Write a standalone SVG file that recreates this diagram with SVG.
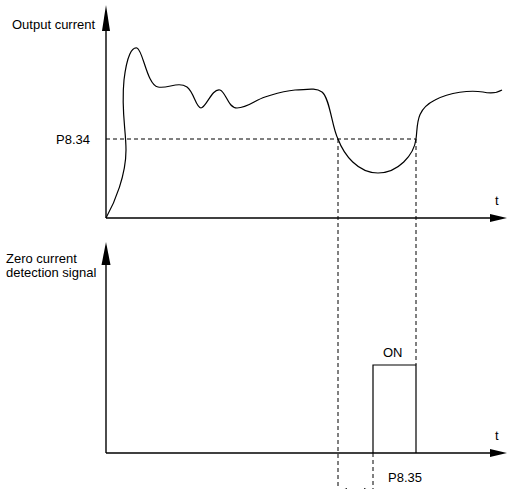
<svg xmlns="http://www.w3.org/2000/svg" width="507" height="489" viewBox="0 0 507 489">
<style>
text{font-family:"Liberation Sans",Arial,sans-serif;font-size:13px;fill:#000}
.ax{stroke:#000;stroke-width:1.4;fill:none}
.ln{stroke:#000;stroke-width:1.2;fill:none}
.ds{stroke:#000;stroke-width:1;fill:none;stroke-dasharray:4 3}
.ah{fill:#000}
</style>
<rect width="507" height="489" fill="#fff"/>
<g id="connectors">
<line class="ax" x1="106" y1="28" x2="106" y2="218"/>
<line class="ax" x1="106" y1="218" x2="494" y2="218"/>
<polygon class="ah" points="106,5 110,31 102,31"/>
<polygon class="ah" points="507,218 490,214 490,222"/>
<line class="ax" x1="106" y1="262" x2="106" y2="453"/>
<line class="ax" x1="106" y1="453" x2="494" y2="453"/>
<polygon class="ah" points="106,242 110.5,265 101.5,265"/>
<polygon class="ah" points="507,453 490,449 490,457"/>
<line class="ds" x1="106" y1="139" x2="416" y2="139"/>
<line class="ds" x1="338" y1="139" x2="338" y2="489"/>
<line class="ds" x1="416" y1="139" x2="416" y2="365"/>
<line class="ds" x1="373" y1="453" x2="373" y2="489"/>
<line class="ln" x1="340" y1="491" x2="371" y2="491"/>
<polygon class="ah" points="340,491 347,488 347,494"/>
<polygon class="ah" points="371,491 364,488 364,494"/>
</g>
<g id="output-current-curve">
<path class="ln" d="M106,218 C115,202 126,175 126,150 C126,130 121,110 124,80 C127,55 132,47 137,48 C143,50 147,85 158,87 C168,89 178,81 187,87 C194,92 196,108 201,108 C206,108 212,88 220,90 C226,92 228,108 237,108 C248,108 255,100 265,97 C275,94 282,91 295,90 C305,90 315,87 322,92 C330,98 332,128 338,139 C344,155 358,173 378,173 C398,173 414,155 416,139 C418,125 415,110 435,100 C450,92 470,90 483,92 C492,94 497,93 502,90"/>
</g>
<g id="on-pulse">
<polyline class="ln" points="373,453 373,365 416,365 416,453"/>
<text x="383" y="357">ON</text>
</g>
<g id="labels">
<text x="12" y="29">Output current</text>
<text x="56" y="144">P8.34</text>
<text x="495" y="205">t</text>
<text x="6" y="263">Zero current</text>
<text x="6" y="277">detection signal</text>
<text x="495" y="440">t</text>
<text x="388" y="482">P8.35</text>
</g>
</svg>
